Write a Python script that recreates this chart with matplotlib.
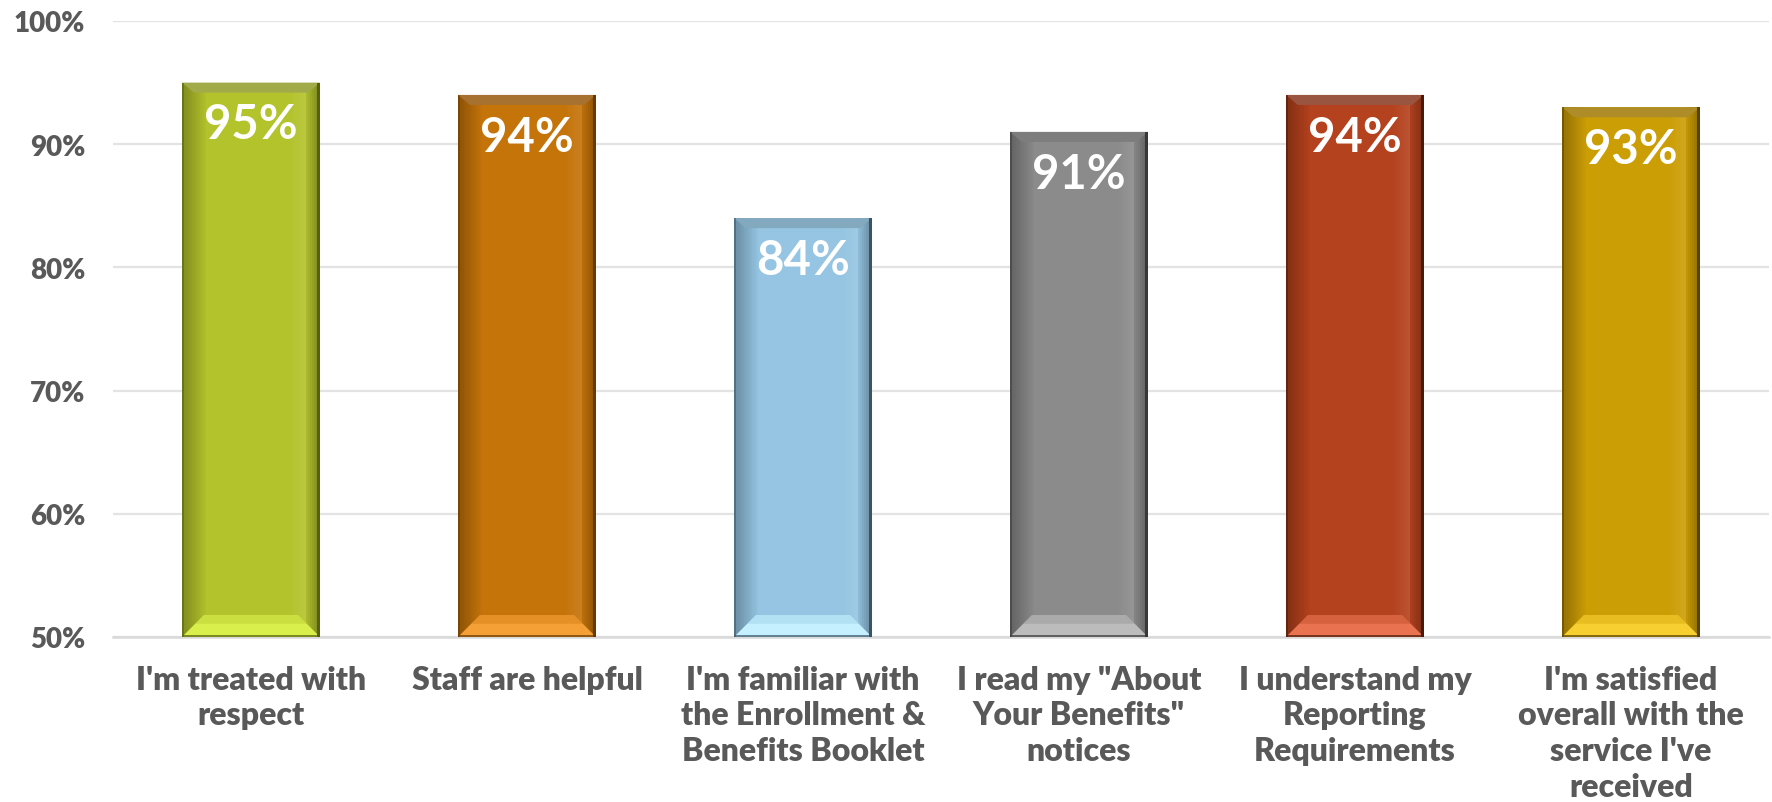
import matplotlib
matplotlib.use("Agg")
import matplotlib.pyplot as plt
from matplotlib.patches import Polygon
import numpy as np

plt.rcParams['font.family'] = ['Lato', 'DejaVu Sans']

# survey results, percent agreeing
labels = [
    "I'm treated with\nrespect",
    "Staff are helpful",
    "I'm familiar with\nthe Enrollment &\nBenefits Booklet",
    "I read my \"About\nYour Benefits\"\nnotices",
    "I understand my\nReporting\nRequirements",
    "I'm satisfied\noverall with the\nservice I've\nreceived",
]
values = [95, 94, 84, 91, 94, 93]

# base, bottom bevel, top bevel, dark edge
base_colors = ['#b3c32c', '#c5740a', '#95c5e2', '#8b8b8b', '#b5421e', '#cc9e06']
bottom_colors = ['#d9ef4c', '#f5a037', '#c4f0ff', '#bcbcbc', '#e97351', '#f8cf30']
top_colors = ['#a2ab4a', '#a7722f', '#83a9bf', '#7d7d7d', '#9a5540', '#ae8d29']
edge_colors = ['#56600f', '#663a00', '#3a5465', '#383838', '#4a1a08', '#584200']

text_gray = '#595959'

fig = plt.figure(figsize=(17.72, 8.03), dpi=100)
ax = fig.add_axes([113 / 1772, 1 - 638 / 803, (1769 - 113) / 1772, (638 - 22) / 803])

x = np.arange(len(values))
width = 0.5
ymin = 50
bars = ax.bar(x, [v - ymin for v in values], width, bottom=ymin, color=base_colors,
              zorder=3, linewidth=0)

# pixel -> data conversion for bevel sizes
px_x = 6.0 / (1769 - 113)
px_y = 50.0 / (638 - 22)


def strip(xa, xb, ya, yb, color, alpha, z):
    ax.add_patch(Polygon([(xa, ya), (xb, ya), (xb, yb), (xa, yb)],
                         closed=True, color=color, alpha=alpha, lw=0, zorder=z))


for i, b in enumerate(bars):
    x0 = b.get_x()
    x1 = x0 + b.get_width()
    y0 = ymin
    y1 = values[i]
    # left shading gradient
    for k in range(12):
        strip(x0 + k * 2 * px_x, x0 + (k + 1) * 2 * px_x, y0, y1, 'black', 0.28 * (1 - k / 12), 4)
    # right highlight then shade
    for k in range(8):
        strip(x1 - (30 - k * 2) * px_x, x1 - (28 - k * 2) * px_x, y0, y1, 'white', 0.09 * (k + 1) / 8, 4)
    for k in range(7):
        strip(x1 - (14 - k * 2) * px_x, x1 - (12 - k * 2) * px_x, y0, y1, 'black', 0.05 + 0.04 * k, 4)
    # bottom bevel
    bh = 22 * px_y
    bw = 22 * px_x
    ax.add_patch(Polygon([(x0, y0), (x1, y0), (x1 - bw, y0 + bh), (x0 + bw, y0 + bh)],
                         closed=True, color=bottom_colors[i], lw=0, zorder=5))
    ax.add_patch(Polygon([(x0 + bw * 0.6, y0 + bh * 0.6), (x1 - bw * 0.6, y0 + bh * 0.6),
                          (x1 - bw, y0 + bh), (x0 + bw, y0 + bh)],
                         closed=True, color=base_colors[i], alpha=0.35, lw=0, zorder=5))
    # top bevel
    th = 10 * px_y
    tw = 12 * px_x
    ax.add_patch(Polygon([(x0, y1), (x1, y1), (x1 - tw, y1 - th), (x0 + tw, y1 - th)],
                         closed=True, color=top_colors[i], lw=0, zorder=5))
    # dark edges
    strip(x1 - 3 * px_x, x1, y0, y1, edge_colors[i], 1.0, 6)
    strip(x0, x0 + 2 * px_x, y0, y1, edge_colors[i], 0.5, 6)
    strip(x0, x1, y0, y0 + 2 * px_y, edge_colors[i], 0.7, 6)
    ax.text(b.get_x() + b.get_width() / 2, values[i] - 3.4, f"{values[i]}%",
            ha='center', va='center', color='white', fontsize=34, fontweight='bold', zorder=7)

ax.set_xlim(-0.5, len(values) - 0.5)
ax.set_ylim(50, 100)
ax.set_yticks([50, 60, 70, 80, 90, 100])
ax.set_yticklabels([f"{t}%" for t in [50, 60, 70, 80, 90, 100]])
ax.set_xticks(x)
ax.set_xticklabels(labels, linespacing=1.28)
ax.tick_params(axis='y', length=0, pad=20, labelsize=20, labelcolor=text_gray)
ax.tick_params(axis='x', length=0, pad=20, labelsize=23, labelcolor=text_gray)
for lab in ax.get_xticklabels() + ax.get_yticklabels():
    lab.set_fontweight('heavy')

ax.grid(axis='y', color='#e3e3e3', linewidth=1.6, zorder=0)
ax.set_axisbelow(True)
for s in ['top', 'right', 'left']:
    ax.spines[s].set_visible(False)
ax.spines['bottom'].set_color('#d9d9d9')
ax.spines['bottom'].set_linewidth(1.8)
ax.spines['bottom'].set_zorder(2)

fig.savefig('out.png', dpi=100)
